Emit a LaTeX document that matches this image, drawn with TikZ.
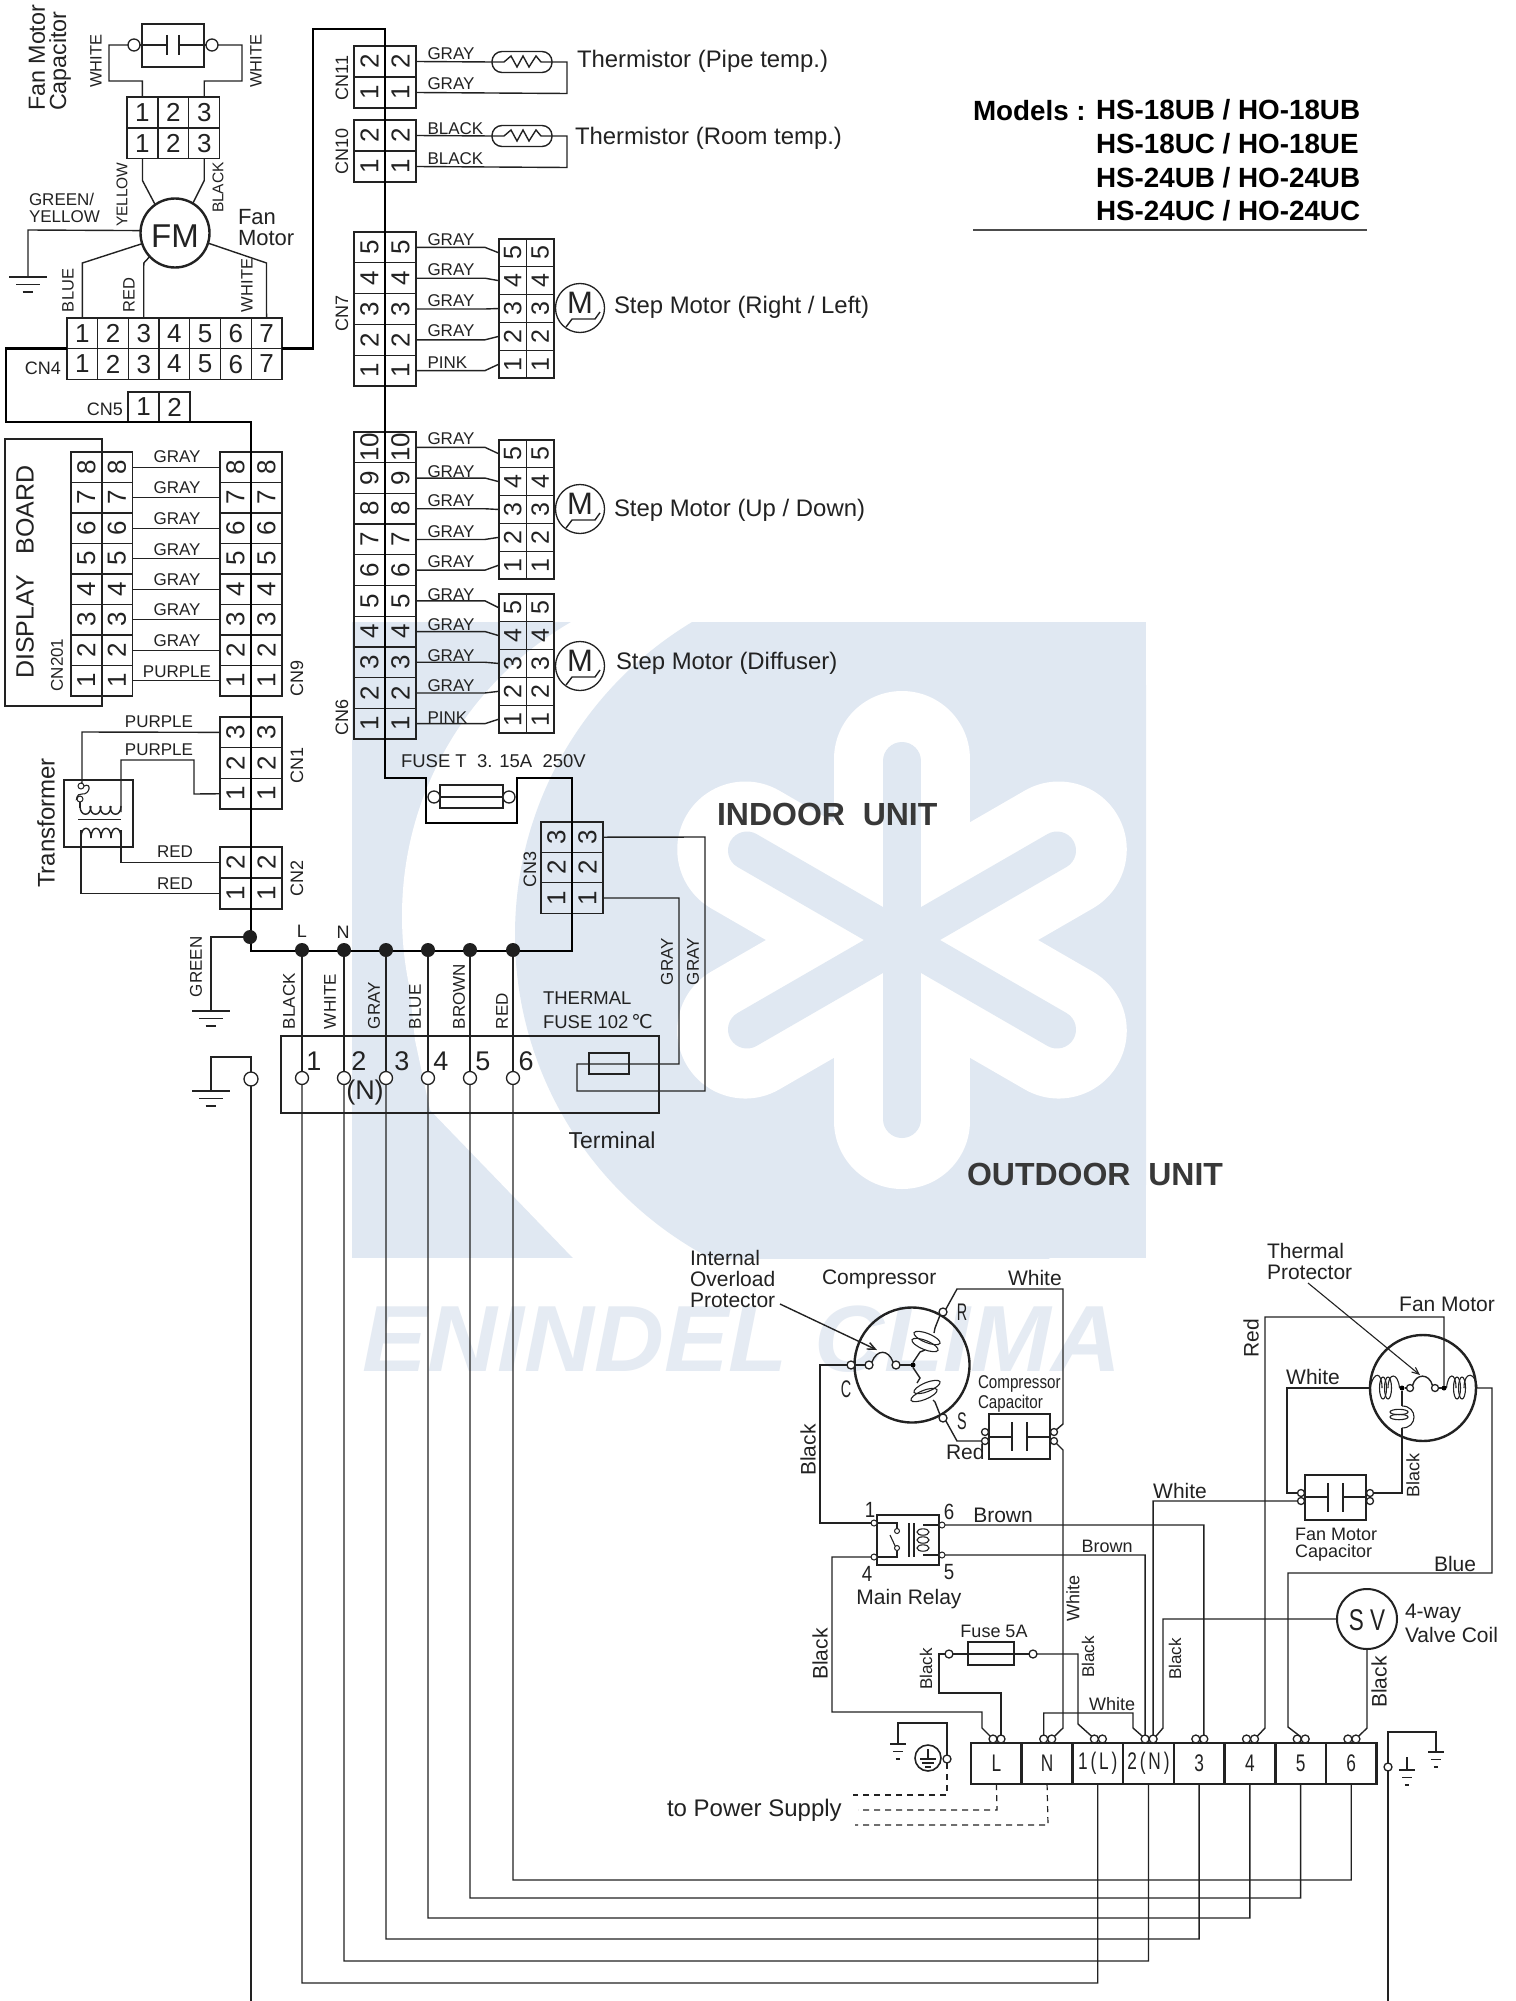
\documentclass[tikz,border=0pt]{standalone}
\usepackage{graphicx}
\usepackage{fontspec}
\setmainfont{Liberation Sans}
\newfontfamily\dejavu{DejaVu Sans}
\usetikzlibrary{arrows.meta}
\definecolor{ink}{HTML}{222222}
\definecolor{wm}{HTML}{E0E8F2}
\definecolor{wmt}{HTML}{E5EBF3}
\newcommand{\fs}[1]{\fontsize{#1}{#1}\selectfont}
\newcounter{lb}
\tikzset{
  txt/.style={inner sep=0pt,outer sep=0pt,text=ink},
  wire/.style={line width=1.4pt,draw=ink,line join=miter},
  thin wire/.style={line width=1.1pt,draw=ink},
  pcb/.style={line width=2.7pt,draw=black,line join=miter},
  bold box/.style={draw=ink,line width=2.6pt,inner sep=0pt,outer sep=0pt},
  plain box/.style={draw=ink,line width=1.4pt,inner sep=0pt,outer sep=0pt},
  cellbox/.style={draw=ink,line width=1.3pt,inner sep=0pt,outer sep=0pt,text=ink},
  termc/.style={circle,draw=ink,fill=white,line width=1.3pt,inner sep=0pt,outer sep=0pt},
  blob/.style={circle,fill=black!88,inner sep=0pt,outer sep=0pt,minimum size=14pt},
  smalldot/.style={circle,fill=black,inner sep=0pt,outer sep=0pt,minimum size=5pt},
  round box/.style={circle,draw=ink,line width=2.4pt,inner sep=0pt,outer sep=0pt},
}
% plain label centred
\newcommand{\lab}[5][]{\stepcounter{lb}\node[txt,font=\fs{#4},yshift=-1pt,#1] (lb\arabic{lb}) at (#2,#3) {#5};}
% label starting at x
\newcommand{\llab}[5][]{\stepcounter{lb}\node[txt,font=\fs{#4},anchor=west,yshift=-1.2pt,#1] (lb\arabic{lb}) at (#2,#3) {#5};}
% rotated label, bottom end at y
\newcommand{\rlab}[5][]{\stepcounter{lb}\node[txt,font=\fs{#4},rotate=90,anchor=west,#1] (lb\arabic{lb}) at (#2,#3) {#5};}
% rotated label, centred
\newcommand{\rclab}[5][]{\stepcounter{lb}\node[txt,font=\fs{#4},rotate=90,#1] (lb\arabic{lb}) at (#2,#3) {#5};}
% one horizontal row of numbered cells: name,x0,w,ytop,h,n,size
\newcommand{\hrow}[7]{\foreach \i in {1,...,#6}{\node[cellbox,minimum width=#3pt,minimum height=#5pt,font=\fs{#7}] (#1\i) at ({#2+(\i-0.5)*#3},{#4+0.5*#5}) {\i};}}
% a two column stack of numbered cells: name,x0,w,ytop,h,n,size
\newcommand{\vstack}[7]{\foreach \kk/\colm in {0/a,1/b}{\foreach \i in {1,...,#6}{\node[cellbox,minimum width=#3pt,minimum height=#5pt,font=\fs{#7}] (#1\colm\i) at ({#2+(\kk+0.5)*#3},{#4+(#6-\i+0.5)*#5}) {\rotatebox{90}{\i}};}}}
% ground symbol
\newcommand{\gnd}[3]{\draw[wire] ({#1-#3},#2) -- ({#1+#3},#2) ({#1-0.62*#3},{#2+7.5}) -- ({#1+0.62*#3},{#2+7.5}) ({#1-0.28*#3},{#2+15}) -- ({#1+0.28*#3},{#2+15});}
% step motor
\newcommand{\stepm}[3]{\node[circle,draw=ink,line width=1.3pt,minimum size=49pt,inner sep=0pt] (#1) at (#2,#3) {};
  \stepcounter{lb}\node[txt,font=\fs{31}] (lb\arabic{lb}) at (#2,{#3-5}) {M};
  \draw[wire] ({#2-14},{#3+19}) -- ({#2-8},{#3+11}) -- ({#2+15},{#3+11}) -- ({#2+20},{#3+4});}
% thermistor
\newcommand{\therm}[3]{\node[plain box,rounded corners=10pt,minimum width=60pt,minimum height=21pt] (#1) at (#2,#3) {};
  \draw[wire] (#1.west) -- ({#2-18},#3) -- ({#2-11},{#3-6}) -- ({#2-5},{#3+5}) -- ({#2+1},{#3-6}) -- ({#2+7},{#3+5}) -- ({#2+14},{#3-6}) -- ({#2+19},#3) -- (#1.east);}
% rotated loop of a winding
\newcommand{\loopc}[5]{\draw[thin wire,rotate around={#5:(#1,#2)}] (#1,#2) ellipse [x radius=#3pt,y radius=#4pt];}
% compressor-like capacitor: name, x1,y1,x2,y2
\newcommand{\capb}[5]{\node[bold box,minimum width={#4-#2},minimum height={#5-#3}] (#1) at ({(#2+#4)/2},{(#3+#5)/2}) {};}
\begin{document}
\begin{tikzpicture}[x=1pt,y=-1pt,line cap=butt]
\useasboundingbox (0,0) rectangle (1515,2001);
\fill[white] (0,0) rectangle (1515,2001);
% ---------- watermark
\begin{scope}
  \clip (352,622) rectangle (1146,1258);
  \fill[wm] (352,622) rectangle (1146,1258);
  \fill[white] (742,916) circle [radius=340pt];
  \fill[white] (402,916) -- (415,1040) -- (430,1110) -- (573,1258) -- (800,1258) -- (800,900) -- cycle;
  \fill[wm] (880,935) circle [radius=365pt];
  \foreach \a in {90,30,-30,-90,-150,150}{
    \draw[white,line width=136pt,line cap=round] (902,940) -- ++({181*cos(\a)},{-181*sin(\a)});
  }
  \foreach \a in {90,30,-30}{
    \draw[wm,line width=38pt,line cap=round] ({902-179*cos(\a)},{940+179*sin(\a)}) -- ({902+179*cos(\a)},{940-179*sin(\a)});
  }
\end{scope}
\stepcounter{lb}\node[inner sep=0pt,text=wmt,font=\fontsize{94}{94}\selectfont\bfseries\itshape] (brandmark) at (742,1339) {\scalebox{1.03}[1]{ENINDEL CLIMA}};
% ---------- connectors, top left
\node[bold box,minimum width=62pt,minimum height=43pt] (fancap) at (173,45.5) {};
\node[termc,minimum size=12pt] (ftL) at (134,45) {};
\node[termc,minimum size=12pt] (ftR) at (212,45) {};
\draw[wire] (ftL.east) -- (167,45) (167,35) -- (167,55) (179,35) -- (179,55) (179,45) -- (ftR.west);
\hrow{fa}{127}{30.9}{97}{31}{3}{26}
\hrow{fb}{127}{30.9}{128}{30.5}{3}{26}
\draw[wire] (ftL.west) -- (109,45) -- (109,81) -- (142.4,81) -- (fa1.north);
\draw[wire] (ftR.east) -- (242,45) -- (242,81) -- (204.3,81) -- (fa3.north);
\node[round box,minimum size=69pt] (fm) at (175,233) {};
\lab{175}{235}{33}{FM}
\draw[wire] (fb1.south) -- ++(0,22) -- (fm.125);
\draw[wire] (fb3.south) -- ++(0,22) -- (fm.59);
\coordinate (gfan) at (28,277);
\draw[wire] (fm.176) -- (28,230) -- (gfan);
\gnd{28}{277}{19}
\hrow{cn4a}{67}{30.7}{318}{30.7}{7}{26}
\hrow{cn4b}{67}{30.7}{348.7}{30.7}{7}{26}
\hrow{cn5a}{128}{31}{392}{30}{2}{26}
\draw[wire] (fm.198) -- (82.4,263) -- (cn4a1.north);
\draw[wire] (fm.223) -- (143.8,263) -- (cn4a3.north);
\draw[wire] (fm.-17) -- (266.5,263) -- (cn4a7.north);
\rlab{37}{111}{23.3}{Fan Motor}
\rlab{60}{111}{23.3}{Capacitor}
\rlab{96}{88}{16.5}{WHITE}
\rlab{256}{88}{16.5}{WHITE}
\rlab{122}{227}{15.5}{YELLOW}
\rlab{218}{213}{15.5}{BLACK}
\llab{29}{198}{17}{GREEN/}
\llab{29}{215}{17}{YELLOW}
\llab{238}{216}{22}{Fan}
\llab{238}{237}{22}{Motor}
\rlab{68}{312}{16.5}{BLUE}
\rlab{129}{312}{16.5}{RED}
\rlab{247}{312}{16.5}{WHITE}
\lab{43}{367}{18}{CN4}
\lab{105}{408}{18}{CN5}
% ---------- display board and CN9
\node[bold box,minimum width=97pt,minimum height=267pt] (dispbox) at (53.5,572.5) {};
\vstack{dp}{71}{30.6}{452}{30.5}{8}{26}
\vstack{cn9}{220}{31}{452}{30.5}{8}{26}
\foreach \i in {1,...,8}{\draw[wire] (dpb\i.east) -- (cn9a\i.west);}
\foreach \yy/\tt in {456/GRAY,487/GRAY,518/GRAY,549/GRAY,579/GRAY,609/GRAY,640/GRAY,671/PURPLE}{\lab{177}{\yy}{17}{\tt}}
\rclab{25}{572}{25}{DISPLAY\ \ \ BOARD}
\rclab{57}{665}{17}{CN201}
\rclab{297}{678}{18}{CN9}
% ---------- CN1, CN2, transformer
\vstack{cn1}{220}{31}{717}{30.7}{3}{26}
\vstack{cn2}{220}{31}{847}{31}{2}{26}
\rclab{297}{765}{18}{CN1}
\rclab{297}{878}{18}{CN2}
\node[bold box,minimum width=69pt,minimum height=67pt] (trafo) at (98.5,813.5) {};
\node[termc,minimum size=6pt,line width=1pt] (trA) at (81,786) {};
\node[termc,minimum size=6pt,line width=1pt] (trB) at (80,799) {};
\draw[wire] (cn1a3.west) -- (82,732) -- (82,783) -- (trA.north);
\draw[wire] (cn1a1.west) -- (194,794) -- (194,760) -- (121,760) -- (121,812);
\draw[wire] (cn2a2.west) -- (121,862.5) -- (121,830);
\draw[wire] (cn2a1.west) -- (81,893.5) -- (81,830);
\draw[thin wire] (trA.east) .. controls (92,782) and (90,795) .. (82,794) .. controls (76,793) and (76,802) .. (trB.west);
\draw[thin wire] (trB.south) -- (80,808);
\foreach \xx in {80,90,100,110}{\draw[wire] (\xx,806) .. controls (\xx,817) and ({\xx+11},817) .. ({\xx+11},806);}
\draw[wire] (78,819.5) -- (121,819.5);
\foreach \xx in {81,91,101,111}{\draw[wire] (\xx,838) .. controls (\xx,825) and ({\xx+10},825) .. ({\xx+10},838);}
\lab{159}{721}{17}{PURPLE}
\lab{159}{749}{17}{PURPLE}
\lab{175}{851}{17}{RED}
\lab{175}{883}{17}{RED}
\rclab{46}{823}{24}{Transformer}
% ---------- CN11, CN10, CN7, CN6
\vstack{cn11}{354}{31}{46}{31}{2}{26}
\vstack{cn10}{354}{31}{120}{31}{2}{26}
\vstack{cn7}{354}{31}{232}{30.8}{5}{26}
\vstack{cn6}{354}{31}{432}{30.7}{10}{26}
\rclab{342}{78}{18}{CN11}
\rclab{342}{151}{18}{CN10}
\rclab{342}{313}{18}{CN7}
\rclab{342}{717}{18}{CN6}
\therm{thA}{522}{62}
\therm{thB}{522}{136}
\draw[wire] (cn11b2.east) -- (thA.west);
\draw[wire] (thA.east) -- (567,62) -- (567,93.5) -- (cn11b1.east);
\draw[wire] (cn10b2.east) -- (thB.west);
\draw[wire] (thB.east) -- (567,136) -- (567,167.5) -- (cn10b1.east);
\vstack{sa}{499}{27.5}{239}{27.8}{5}{25}
\vstack{sb}{499}{27.5}{440}{27.8}{5}{25}
\vstack{sc}{499}{27.5}{594}{27.8}{5}{25}
\stepm{mA}{580}{308}
\stepm{mB}{580}{509}
\stepm{mC}{580}{666}
\foreach \i in {1,...,5}{\draw[wire] (cn7b\i.east) -- ++(69,0) -- (saa\i.west);}
\foreach \i/\j in {10/5,9/4,8/3,7/2,6/1}{\draw[wire] (cn6b\i.east) -- ++(69,0) -- (sba\j.west);}
\foreach \i in {1,...,5}{\draw[wire] (cn6b\i.east) -- ++(69,0) -- (sca\i.west);}
\foreach \yy/\tt in {52/GRAY,82/GRAY,127/BLACK,157/BLACK,238/GRAY,268/GRAY,299/GRAY,329/GRAY,361/PINK,437/GRAY,470/GRAY,499/GRAY,530/GRAY,560/GRAY,593/GRAY,623/GRAY,654/GRAY,684/GRAY,716/PINK}{\llab{427.5}{\yy}{17}{\tt}}
\llab{577}{60}{23.9}{Thermistor (Pipe temp.)}
\llab{575}{137}{23.9}{Thermistor (Room temp.)}
\llab{614}{306}{23.9}{Step Motor (Right / Left)}
\llab{614}{509}{23.9}{Step Motor (Up / Down)}
\llab{616}{662}{23.9}{Step Motor (Diffuser)}
% ---------- models
\llab[font=\fs{27.8}\bfseries,text=black]{973}{109}{27.8}{Models :}
\foreach \yy/\tt in {109/{HS-18UB / HO-18UB},143/{HS-18UC / HO-18UE},177/{HS-24UB / HO-24UB},210/{HS-24UC / HO-24UC}}{\llab[font=\fs{27.8}\bfseries,text=black]{1096}{\yy}{27.8}{\tt}}
\coordinate (ruleA) at (973,230);
\coordinate (ruleB) at (1367,230);
\draw[line width=2pt,draw=black!70] (ruleA) -- (ruleB);
% ---------- mains fuse, CN3
\node[plain box,minimum width=63pt,minimum height=23pt] (ffuse) at (471.5,796.5) {};
\node[termc,minimum size=12pt] (ffL) at (434,797) {};
\node[termc,minimum size=12pt] (ffR) at (509,797) {};
\draw[wire] (ffL.east) -- (ffR.west);
\llab{401}{760}{18.5}{FUSE T\ \ 3. 15A\ \ 250V}
\vstack{cn3}{541}{31}{822}{30.4}{3}{26}
\rclab{530}{869}{18}{CN3}
% ---------- power distribution path
\coordinate (busEnd) at (251,951);
\draw[pcb] (cn4b1.north west) -- (6,348.7) -- (6,422) -- (251,422) -- (busEnd) -- (572,951) -- (572,778) -- (517,778) -- (517,823) -- (426,823) -- (426,778) -- (385,778) -- (385,29) -- (313,29) -- (313,348.7) -- (cn4b7.north east);
\node[blob] (d0) at (250,937) {};
\foreach \n/\xx in {1/302,2/344,3/386,4/428,5/470,6/513}{\node[blob] (d\n) at (\xx,950) {};}
\foreach \n/\xx in {1/302,2/344,3/386,4/428,5/470,6/513}{\node[termc,minimum size=13pt] (t\n) at (\xx,1078) {};}
\foreach \n in {1,...,6}{\draw[wire] (d\n.south) -- (t\n.north);}
\draw[wire] (d0.west) -- (211,937) -- (211,1011);
\gnd{211}{1011}{19}
\lab{302}{930}{18}{L}
\lab{343}{931}{18}{N}
\rlab{196}{997}{17}{GREEN}
\foreach \xx/\tt in {289/BLACK,330/WHITE,374/GRAY,415/BLUE,459/BROWN,502/RED}{\rlab{\xx}{1029}{17}{\tt}}
\rlab{667}{985}{17}{GRAY}
\rlab{693}{985}{17}{GRAY}
\llab{543}{997}{18.5}{THERMAL}
\llab{543}{1020}{18.5}{FUSE 102\,{\dejavu\fs{19}℃}}
\lab{612}{1139}{23}{Terminal}
% ---------- indoor terminal
\node[bold box,minimum width=378pt,minimum height=77pt] (tbox) at (470,1074.5) {};
\foreach \xx/\tt in {314/1,359/2,402/3,441/4,483/5,526/6}{\lab{\xx}{1060}{27}{\tt}}
\lab{365}{1091}{27}{(N)}
\node[plain box,minimum width=40pt,minimum height=21pt] (tfuse) at (609,1063.5) {};
\draw[wire] (cn3b1.east) -- (679,898) -- (679,1064) -- (577,1064) -- (577,1091) -- (705,1091) -- (705,837) -- (cn3b3.east);
\node[termc,minimum size=14pt] (tg) at (251,1079) {};
\draw[wire] (tg.north) -- (251,1057) -- (211,1057) -- (211,1091);
\gnd{211}{1091}{19}
\coordinate (endG) at (251,2001);
\draw[wire] (tg.south) -- (endG);
\llab[font=\fs{32}\bfseries,text=ink!90]{717}{813}{32}{INDOOR\ \ UNIT}
\llab[font=\fs{32}\bfseries,text=ink!90]{967}{1173}{32}{OUTDOOR\ \ UNIT}
% ---------- outdoor terminal strip
\foreach \n/\tt in {1/L,2/N,3/{1\,(\,L\,)},4/{2\,(\,N\,)},5/3,6/4,7/5,8/6}{
  \node[bold box,minimum width=50.7pt,minimum height=41pt,font=\fs{24},text=ink] (ts\n) at ({971+50.7*(\n-0.5)},1763.5) {\scalebox{0.72}[1]{\tt}};
  \node[termc,minimum size=8pt] (p\n a) at ({971+50.7*(\n-1)+22},1739) {};
  \node[termc,minimum size=8pt] (p\n b) at ({971+50.7*(\n-1)+30},1739) {};
}
% bus wires to the outdoor strip
\draw[wire] (t1.south) -- (302,1983) -- (1097.75,1983) -- (ts3.south);
\draw[wire] (t2.south) -- (344,1961) -- (1148.45,1961) -- (ts4.south);
\draw[wire] (t3.south) -- (386,1939) -- (1199.15,1939) -- (ts5.south);
\draw[wire] (t4.south) -- (428,1918) -- (1249.85,1918) -- (ts6.south);
\draw[wire] (t5.south) -- (470,1898) -- (1300.55,1898) -- (ts7.south);
\draw[wire] (t6.south) -- (513,1880) -- (1351.25,1880) -- (ts8.south);
% ---------- compressor
\node[round box,minimum size=115pt] (comp) at (912,1365) {};
\node[termc,minimum size=8pt] (cC) at (851,1365) {};
\node[termc,minimum size=8pt] (cR) at (943,1312) {};
\node[termc,minimum size=8pt] (cS) at (943,1418) {};
\node[termc,minimum size=8pt] (olA) at (869,1365) {};
\node[termc,minimum size=8pt] (olB) at (896,1365) {};
\node[smalldot] (cJ) at (913,1365) {};
\draw[wire] (cC.east) -- (olA.west);
\draw[wire] (olA.north east) .. controls (877,1349) and (888,1349) .. (olB.north west);
\draw[wire] (olB.east) -- (cJ.west);
\draw[wire] (cJ.north) -- (920,1352) -- (925,1350);
\draw[wire] (934,1333) -- (935,1328) -- (cR.south west);
\draw[wire] (cJ.south) -- (920,1378) -- (917,1383);
\draw[wire] (933,1400) -- (935,1402) -- (cS.north west);
\loopc{927}{1338}{14}{4.5}{-22}
\loopc{925}{1345}{14}{4.5}{-22}
\loopc{927}{1387}{14}{4.5}{22}
\loopc{924}{1395}{14}{4.5}{22}
\capb{ccap}{989}{1414}{1050}{1459}
\node[termc,minimum size=7pt] (cl1) at (985,1432) {};
\node[termc,minimum size=7pt] (cl2) at (985,1441) {};
\node[termc,minimum size=7pt] (cr1) at (1054,1432) {};
\node[termc,minimum size=7pt] (cr2) at (1054,1441) {};
\draw[wire] (989,1437) -- (1012,1437) (1012,1422) -- (1012,1451) (1027,1422) -- (1027,1451) (1027,1437) -- (1050,1437);
\draw[wire] (cS.south east) -- (957,1441) -- (cl2.west);
\draw[wire] (cr1.north east) -- (1063,1424) -- (1063,1289) -- (957,1289) -- (cR.north east);
\draw[wire] (cr2.south east) -- (1063,1450) -- (1063,1728) -- (p2b.north east);
\coordinate (arrA) at (780,1304);
\coordinate (arrB) at (877,1350);
\draw[wire,-{Straight Barb[length=8pt,width=7pt]}] (arrA) -- (arrB);
\llab{690}{1257}{21}{Internal}
\llab{690}{1278}{21}{Overload}
\llab{690}{1299}{21}{Protector}
\llab{822}{1278}{21}{Compressor}
\llab{1008}{1277}{21}{White}
\llab{946}{1451}{21}{Red}
\rclab{808}{1450}{21}{Black}
\lab{962}{1311}{24}{\scalebox{0.6}[1]{R}}
\lab{962}{1420}{24}{\scalebox{0.6}[1]{S}}
\lab{846}{1388}{24}{\scalebox{0.6}[1]{C}}
\llab{978}{1383}{18.5}{\scalebox{0.82}[1]{Compressor}}
\llab{978}{1402}{18.5}{\scalebox{0.82}[1]{Capacitor}}
% ---------- main relay
\capb{relay}{877}{1515}{939}{1565}
\foreach \n/\xx/\yy in {1/874/1523,4/874/1557,6/942/1525,5/942/1555}{\node[termc,minimum size=6pt,line width=1pt] (r\n) at (\xx,\yy) {};}
\node[termc,minimum size=5pt,line width=1pt] (rsA) at (897,1531) {};
\node[termc,minimum size=5pt,line width=1pt] (rsB) at (897,1548) {};
\draw[thin wire] (r1.east) -- (897,1523) -- (rsA.north);
\draw[thin wire] (r4.east) -- (897,1557) -- (rsB.south);
\draw[thin wire] (890,1535) -- (rsB.north west);
\draw[wire] (909,1523) -- (909,1557) (914,1523) -- (914,1557);
\draw[thin wire] (r6.west) -- (923,1525) (r5.west) -- (923,1555);
\loopc{923}{1532}{6}{3.2}{0}
\loopc{923}{1540}{6}{3.2}{0}
\loopc{923}{1548}{6}{3.2}{0}
\draw[wire] (cC.west) -- (820,1365) -- (820,1523) -- (r1.west);
\draw[wire] (r4.west) -- (832,1557) -- (832,1712) -- (982,1712) -- (982,1728) -- (p1a.north west);
\lab{870}{1509}{22}{\scalebox{0.85}[1]{1}}
\lab{949}{1511}{22}{\scalebox{0.85}[1]{6}}
\lab{867}{1573}{22}{\scalebox{0.85}[1]{4}}
\lab{949}{1571}{22}{\scalebox{0.85}[1]{5}}
\lab{909}{1598}{21}{Main Relay}
\lab{1003}{1514}{21}{Brown}
\lab{1107}{1545}{18}{Brown}
\rclab{820}{1654}{21}{Black}
\rclab{1073}{1598}{18}{White}
% ---------- fuse 5A
\node[bold box,minimum width=46pt,minimum height=23pt] (fuse5) at (991,1653.5) {};
\node[termc,minimum size=8pt] (fl) at (949,1654) {};
\node[termc,minimum size=8pt] (fr) at (1033,1654) {};
\draw[wire] (fl.east) -- (fr.west);
\draw[wire] (fl.west) -- (939,1654) -- (939,1693) -- (1001,1693) -- (p1b.north);
\draw[wire] (fr.east) -- (1078,1654) -- (1078,1724) -- (p3a.north west);
\draw[wire] (p2a.north) -- (1043.7,1713) -- (1133,1713) -- (1133,1728) -- (p4a.north west);
\lab{994}{1630}{18}{Fuse 5A}
\rclab{926}{1669}{17}{Black}
\rclab{1088}{1657}{17}{Black}
\lab{1112}{1703}{18}{White}
\rclab{1175}{1659}{17}{Black}
\draw[wire] (r5.east) -- (1145.1,1555) -- (p4a.north);
\draw[wire] (r6.east) -- (1203.8,1525) -- (p5b.north);
% ---------- fan motor
\node[round box,minimum size=106pt] (ofm) at (1423,1388) {};
\node[smalldot] (mdL) at (1402,1388) {};
\node[termc,minimum size=7pt] (olC) at (1410,1388) {};
\node[termc,minimum size=7pt] (olD) at (1435,1388) {};
\node[smalldot] (mdR) at (1444,1388) {};
\draw[wire] (mdL.east) -- (olC.west);
\draw[wire] (olD.east) -- (mdR.west);
\draw[wire] (olC.north east) .. controls (1416,1373) and (1429,1373) .. (olD.north west);
\coordinate (fmL) at (1370,1388);
\coordinate (fmR) at (1477,1388);
\draw[thin wire] (fmL) .. controls (1374,1370) and (1382,1372) .. (1382,1388);
\draw[thin wire] (1388,1388) .. controls (1388,1372) and (1398,1372) .. (mdL.west);
\loopc{1383}{1388}{3.5}{11}{0}
\loopc{1388}{1388}{3.5}{11}{0}
\draw[thin wire] (mdR.east) .. controls (1448,1372) and (1456,1372) .. (1456,1388);
\draw[thin wire] (1464,1388) .. controls (1464,1370) and (1476,1372) .. (fmR);
\loopc{1457}{1388}{3.5}{11}{0}
\loopc{1462}{1388}{3.5}{11}{0}
\draw[wire] (mdL.south) -- (1402,1406);
\loopc{1399}{1412}{9}{2.7}{0}
\loopc{1399}{1417}{9}{2.7}{0}
\draw[thin wire] (1402,1406) .. controls (1418,1406) and (1418,1428) .. (1402,1428);
\capb{fcap}{1305}{1475}{1366}{1520}
\node[termc,minimum size=7pt] (fl1) at (1301,1493) {};
\node[termc,minimum size=7pt] (fl2) at (1301,1501) {};
\node[termc,minimum size=7pt] (fr1) at (1370,1493) {};
\node[termc,minimum size=7pt] (fr2) at (1370,1501) {};
\draw[wire] (1305,1497) -- (1328,1497) (1328,1483) -- (1328,1512) (1343,1483) -- (1343,1512) (1343,1497) -- (1366,1497);
\draw[wire] (1402,1428) -- (1402,1493) -- (fr1.east);
\draw[wire] (fmL) -- (1287,1388) -- (1287,1493) -- (fl1.west);
\draw[wire] (fl2.west) -- (1153.1,1501) -- (p4b.north);
\draw[wire] (fmR) -- (1492,1388) -- (1492,1573) -- (1288,1573) -- (1288,1727) -- (p7a.north east);
\draw[wire] (mdR.north) -- (1444,1317) -- (1265,1317) -- (1265,1728) -- (p6b.north east);
\coordinate (arrC) at (1308,1283);
\coordinate (arrD) at (1420,1375);
\draw[thin wire,-{Straight Barb[length=7pt,width=6pt]}] (arrC) -- (arrD);
\llab{1267}{1250}{21}{Thermal}
\llab{1267}{1271}{21}{Protector}
\lab{1447}{1303}{21}{Fan Motor}
\lab{1313}{1376}{21}{White}
\lab{1180}{1490}{21}{White}
\rclab{1251}{1338}{21}{Red}
\rclab{1413}{1475}{18}{Black}
\llab{1295}{1533}{18}{Fan Motor}
\llab{1295}{1552}{18}{Capacitor}
\lab{1455}{1563}{21}{Blue}
% ---------- 4-way valve
\node[round box,minimum size=60pt,line width=2pt] (sv) at (1367,1619) {};
\lab{1367}{1619}{30}{\scalebox{0.75}[1]{S V}}
\draw[wire] (sv.west) -- (1163,1619) -- (1163,1728) -- (p4b.north east);
\draw[wire] (sv.south) -- (1367,1728) -- (p8b.north east);
\llab{1405}{1612}{21}{4-way}
\llab{1405}{1634}{21}{Valve Coil}
\rclab{1379}{1682}{21}{Black}
% ---------- outdoor grounds and supply
\node[termc,minimum size=8pt] (og) at (1388,1767) {};
\draw[wire] (og.north) -- (1388,1732) -- (1436,1732) -- (1436,1752);
\gnd{1436}{1752}{8}
\coordinate (endOG) at (1388,2001);
\draw[wire] (og.south) -- (endOG);
\draw[wire] (1407,1757) -- (1407,1770);
\gnd{1407}{1770}{8}
\node[termc,minimum size=8pt] (lg) at (947,1759) {};
\draw[wire] (lg.north) -- (947,1723) -- (898,1723) -- (898,1744);
\gnd{898}{1744}{8}
\node[circle,draw=ink,line width=1.6pt,minimum size=26pt,inner sep=0pt] (earth) at (928,1758) {};
\draw[wire] (928,1749) -- (928,1759);
\draw[thin wire] (920,1759) -- (936,1759) (922,1763) -- (934,1763) (925,1767) -- (931,1767);
\coordinate (spA) at (853,1795);
\coordinate (spB) at (858,1810);
\coordinate (spC) at (855,1825);
\draw[wire,line width=1.2pt,dash pattern=on 6pt off 5pt] (lg.south) -- (947,1795) -- (spA);
\draw[wire,line width=1.2pt,dash pattern=on 6pt off 5pt] (ts1.south) -- (997,1810) -- (spB);
\draw[wire,line width=1.2pt,dash pattern=on 6pt off 5pt] (ts2.south) -- (1048,1825) -- (spC);
\llab{667}{1809}{24}{to Power Supply}
\end{tikzpicture}
\end{document}
